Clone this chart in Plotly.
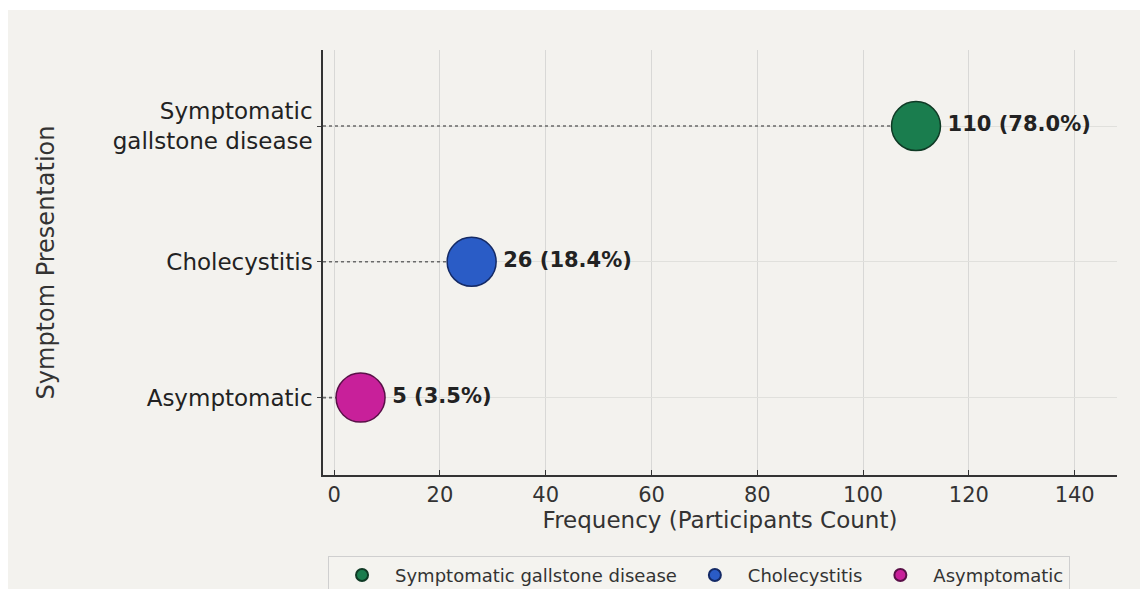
import plotly.graph_objects as go

# Symptom presentation data
categories = ["Asymptomatic", "Cholecystitis", "Symptomatic gallstone disease"]
tick_text = ["Asymptomatic", "Cholecystitis", "Symptomatic<br>gallstone disease"]
counts = [5, 26, 110]
percents = [3.5, 18.4, 78.0]
colors = ["#c8209a", "#2a5cc6", "#1a7d4e"]
edge_colors = ["#5a1048", "#142a66", "#0f3a25"]
legend_order = [2, 1, 0]

W, H = 1140, 589
L, R, T, B = 323, 23, 50, 114
x_range = [-2.1, 148]
y_range = [-0.57, 2.56]

fig = go.Figure()

# dotted stems from the axis to each point
for i, cat in enumerate(categories):
    fig.add_trace(go.Scatter(
        x=[x_range[0], counts[i]], y=[i, i], mode="lines",
        line=dict(color="#6a6a6a", width=1.6, dash="dot"),
        showlegend=False, hoverinfo="skip"))

# points with value labels
for i in legend_order:
    fig.add_trace(go.Scatter(
        x=[counts[i]], y=[i], mode="markers+text",
        name=categories[i],
        marker=dict(size=49, color=colors[i],
                    line=dict(color=edge_colors[i], width=1.5)),
        text=[f"<b>{counts[i]} ({percents[i]:.1f}%)</b>"],
        textposition="middle right",
        textfont=dict(family="DejaVu Sans", size=21, color="#222222"),
        cliponaxis=False))

pw = W - L - R
ph = H - T - B
# light framed background with white strips on top and left
fig.add_shape(type="rect", xref="paper", yref="paper", layer="below",
              x0=(8 - L) / pw, x1=(W - L) / pw,
              y0=-(H - T - ph) / ph, y1=(T - 10) / ph + 1,
              fillcolor="#f3f2ee", line=dict(width=0))

fig.update_layout(
    width=W, height=H,
    margin=dict(l=L, r=R, t=T, b=B, autoexpand=False),
    paper_bgcolor="#ffffff",
    plot_bgcolor="#f3f2ee",
    font=dict(family="DejaVu Sans", color="#222222"),
    xaxis=dict(
        range=x_range, tickvals=[0, 20, 40, 60, 80, 100, 120, 140],
        showgrid=True, gridcolor="#d8d8d6", gridwidth=1,
        zeroline=False, showline=True, linecolor="#333333", linewidth=1.5,
        ticks="inside", ticklen=5, tickcolor="#333333",
        tickfont=dict(size=21, color="#333333"),
        title=dict(text="Frequency (Participants Count)",
                   font=dict(size=23, color="#333333"), standoff=2)),
    yaxis=dict(
        range=y_range, tickvals=[0, 1, 2], ticktext=tick_text,
        showgrid=True, gridcolor="#e0e0dc", gridwidth=1,
        zeroline=False, showline=True, linecolor="#333333", linewidth=1.5,
        ticks="outside", ticklen=4, tickcolor="#444444", ticklabelstandoff=0,
        tickfont=dict(size=23, color="#222222"),
        title=dict(text="Symptom Presentation",
                   font=dict(size=24, color="#333333"), standoff=51)),
    legend=dict(
        orientation="h", x=0.4736, xanchor="center", y=-0.19, yanchor="top",
        bgcolor="#f4f3ef", bordercolor="#cfcfcf", borderwidth=1,
        font=dict(family="DejaVu Sans", size=18, color="#333333"),
        itemsizing="constant", itemwidth=56),
)

fig.write_html("out.html")
